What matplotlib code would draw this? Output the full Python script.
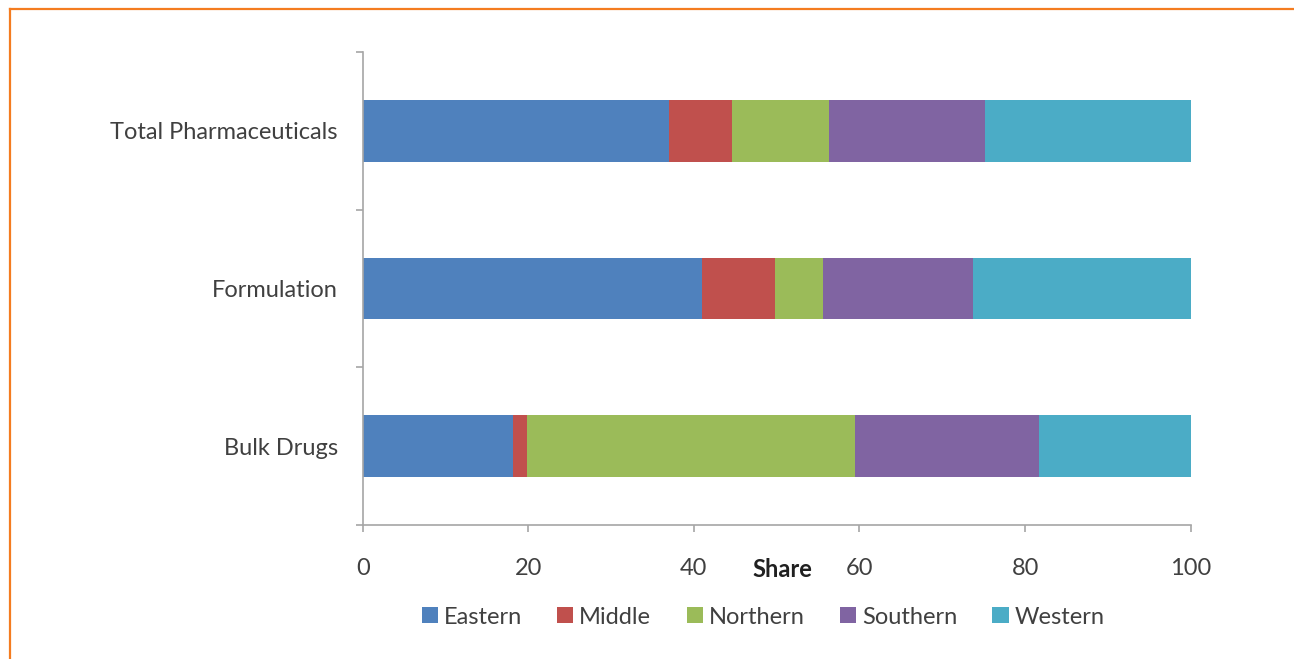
import matplotlib
matplotlib.use("Agg")
import matplotlib.pyplot as plt
from matplotlib.lines import Line2D
import numpy as np

categories = ["Bulk Drugs", "Formulation", "Total Pharmaceuticals"]
regions = ["Eastern", "Middle", "Northern", "Southern", "Western"]
eastern = [18.2, 41.0, 37.0]
middle = [1.6, 8.8, 7.6]
northern = [39.6, 5.8, 11.7]
southern = [22.3, 18.1, 18.8]
western = [18.3, 26.3, 24.9]
series = [eastern, middle, northern, southern, western]
colors = ["#4F81BD", "#C0504D", "#9BBB59", "#8064A2", "#4BACC6"]
xticks = [0, 20, 40, 60, 80, 100]

plt.rcParams['font.family'] = ['Lato', 'DejaVu Sans']

W, H = 1294, 659
FS = 17
fig = plt.figure(figsize=(W / 100, H / 100), dpi=100)
ax = fig.add_axes([362.7 / W, 1 - 525 / H, (1190.7 - 362.7) / W, (525 - 52) / H])

y = np.arange(len(categories))
left = np.zeros(len(categories))
for name, vals, c in zip(regions, series, colors):
    ax.barh(y, vals, left=left, height=0.393, color=c, label=name,
            edgecolor='none')
    left = left + np.array(vals)

ax.set_xlim(0, 100)
ax.set_ylim(-0.5, 2.5)
ax.set_xticks(xticks)
ax.set_xticklabels([str(t) for t in xticks])
ax.set_yticks(y)
ax.set_yticklabels(categories)
ax.set_yticks([-0.5, 0.5, 1.5, 2.5], minor=True)

spine_c = "#A6A6A6"
for s in ['top', 'right']:
    ax.spines[s].set_visible(False)
for s in ['left', 'bottom']:
    ax.spines[s].set_color(spine_c)
    ax.spines[s].set_linewidth(1.2)

txt_c = "#404040"
ax.tick_params(axis='y', which='major', length=0, pad=18, labelsize=FS, labelcolor=txt_c)
ax.tick_params(axis='y', which='minor', length=5, color=spine_c, width=1.2)
ax.tick_params(axis='x', which='major', length=5, color=spine_c, width=1.2,
               pad=19, labelsize=FS, labelcolor=txt_c)

ax.set_xlabel("Share", fontsize=FS, fontweight='bold', color="#202020")
ax.xaxis.set_label_coords((782 - 362.7) / 828, (525 - 558) / 473)

leg = fig.legend(loc='center', bbox_to_anchor=(763 / W, 1 - 617 / H), ncol=5,
                 frameon=False, fontsize=FS, handlelength=0.68, handleheight=0.68,
                 handletextpad=0.25, columnspacing=1.5)
for t in leg.get_texts():
    t.set_color(txt_c)

orange = "#F47C20"
fig.add_artist(Line2D([10 / W, 1], [1 - 9 / H, 1 - 9 / H], transform=fig.transFigure,
                      color=orange, lw=1.6))
fig.add_artist(Line2D([10 / W, 10 / W], [0, 1 - 9 / H], transform=fig.transFigure,
                      color=orange, lw=1.6))

fig.savefig("out.png", dpi=100)
